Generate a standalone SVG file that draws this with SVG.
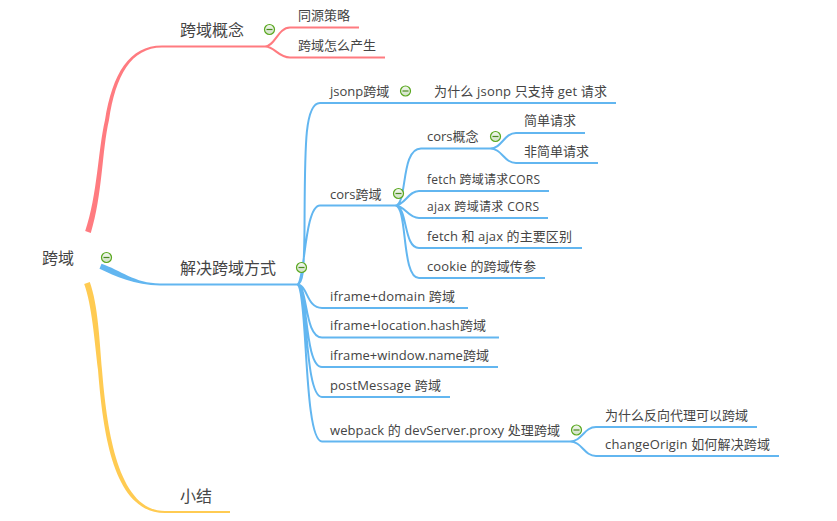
<svg xmlns="http://www.w3.org/2000/svg" width="837" height="521" viewBox="0 0 837 521">
<style>
text{font-family:"Open Sans","Noto Sans CJK SC",sans-serif;font-size:13px;fill:#444}
.big{font-size:16px}
.sm{font-size:12px}
.b{fill:none;stroke:#62b6f0;stroke-width:2}
.r{fill:none;stroke:#ff7b80;stroke-width:2}
.icon circle{fill:url(#g);stroke:#5aa820;stroke-width:1.2}
.icon path{stroke:#4c8a20;stroke-width:1.2;fill:none}
</style>
<defs><linearGradient id="g" x1="0" y1="0" x2="0" y2="1"><stop offset="0" stop-color="#f4f8f0"/><stop offset="1" stop-color="#cfe0c4"/></linearGradient>
<g id="m" class="icon"><circle r="5"/><path d="M-3 0H3"/></g></defs>
<g id="connectors">
<path fill="#ff7b80" d="M85.200 231C97.500 195 98 150 105 120C112.500 74 129 45.500 162 45.500L265 45.500V47.500L162 47.500C131 47.500 115.500 76 109 120C102 150 102.500 195 90.800 233Z"/>
<path fill="#62b6f0" d="M101.500 263.800C120 270 135 283.500 160 283.500L297 283.500V285.500L160 285.500C135 285.500 115 276 99.500 268.800Z"/>
<path fill="#ffcb52" d="M84.200 284C92 306 94.500 340 98 370C103 432 113 513 165 513L230 513V511L165 511C118 511 107 430 102 370C99.500 340 98 305 89.800 282Z"/>
<path class="r" d="M265 46.500C275 46.500 278 27.500 290 27.500H359M265 46.500C275 46.500 278 57.500 290 57.500H385"/>
<path class="b" d="M297 284.500C303 284.500 304 270 304.500 230C305 150 304 103 320 103H616M297 284.500C305 284.500 304 205.500 320 205.500H395M297 284.500C308 284.500 306 308 322 308H468M297 284.500C308 284.500 304 337.500 322 337.500H499M297 284.500C308 284.500 304 367 322 367H498M297 284.500C308 284.500 304 397 322 397H450M297 284.500C308 284.500 303 441.500 322 441.500H570"/>
<path class="b" d="M395 205.500C408 205.500 400 148.500 421 148.500H490M395 205.500C405 205.500 408 191 419 191H549M395 205.500C405 205.500 408 218 419 218H548M395 205.500C408 205.500 403 248 419 248H582M395 205.500C408 205.500 401 278 419 278H545"/>
<path class="b" d="M490 148.500C502 148.500 504 133 516 133H585M490 148.500C502 148.500 504 163 516 163H598"/>
<path class="b" d="M570 441.500C582 441.500 584 427 596 427H757M570 441.500C582 441.500 584 456 596 456H779"/>
</g>
<g id="root"><text class="big" x="42" y="264">跨域</text><use href="#m" x="106.500" y="257.500"/></g>
<g id="n1"><text class="big" x="180" y="36">跨域概念</text><use href="#m" x="269.500" y="29.500"/></g>
<g id="n1a"><text x="298" y="20">同源策略</text></g>
<g id="n1b"><text x="298" y="50">跨域怎么产生</text></g>
<g id="n2"><text class="big" x="180" y="274">解决跨域方式</text><use href="#m" x="301.500" y="267.500"/></g>
<g id="n3"><text class="big" x="180" y="502">小结</text></g>
<g id="jsonp"><text x="330" y="96">jsonp跨域</text><use href="#m" x="405.500" y="91"/></g>
<g id="jsonp1"><text x="434" y="96" textLength="173">为什么 jsonp 只支持 get 请求</text></g>
<g id="cors"><text x="330" y="199">cors跨域</text><use href="#m" x="398.500" y="193.500"/></g>
<g id="corsc"><text x="427" y="141">cors概念</text><use href="#m" x="495.500" y="136.500"/></g>
<g id="s1"><text x="524" y="125">简单请求</text></g>
<g id="s2"><text x="524" y="156">非简单请求</text></g>
<g id="f1"><text class="sm" x="427" y="184" textLength="113">fetch 跨域请求CORS</text></g>
<g id="f2"><text class="sm" x="427" y="211" textLength="112">ajax 跨域请求 CORS</text></g>
<g id="f3"><text x="427" y="241" textLength="145">fetch 和 ajax 的主要区别</text></g>
<g id="f4"><text x="427" y="271" textLength="109">cookie 的跨域传参</text></g>
<g id="i1"><text x="330" y="301" textLength="125">iframe+domain 跨域</text></g>
<g id="i2"><text x="330" y="330" textLength="156">iframe+location.hash跨域</text></g>
<g id="i3"><text x="330" y="360" textLength="159">iframe+window.name跨域</text></g>
<g id="i4"><text x="330" y="390" textLength="111">postMessage 跨域</text></g>
<g id="w"><text x="330" y="435" textLength="230">webpack 的 devServer.proxy 处理跨域</text><use href="#m" x="576.500" y="430"/></g>
<g id="w1"><text x="605" y="420">为什么反向代理可以跨域</text></g>
<g id="w2"><text x="605" y="449" textLength="165">changeOrigin 如何解决跨域</text></g>
</svg>
